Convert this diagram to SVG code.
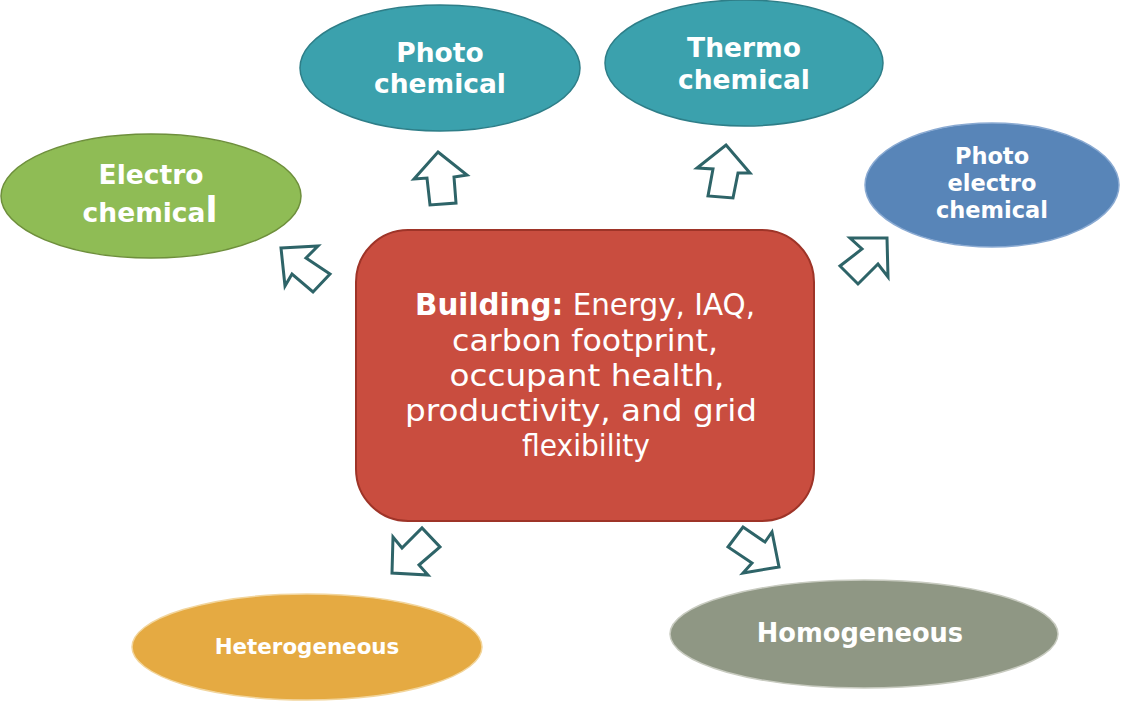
<svg xmlns="http://www.w3.org/2000/svg" width="1122" height="703" viewBox="0 0 1122 703">
<style>
.lbl{font-family:"DejaVu Sans","Noto Sans",sans-serif;font-weight:bold;fill:#fff;text-anchor:middle}
.ctr{font-family:"DejaVu Sans","Noto Sans",sans-serif;fill:#fff;text-anchor:middle;font-size:30px}
.arr{fill:#fff;stroke:#2E6468;stroke-width:3;stroke-linejoin:miter}
</style>
<rect width="1122" height="703" fill="#fff"/>
<g id="center">
<rect x="356" y="230" width="458" height="291" rx="52" fill="#C94D3F" stroke="#9E3428" stroke-width="2"/>
<text class="ctr" x="585" y="315" textLength="340" lengthAdjust="spacingAndGlyphs"><tspan font-weight="bold">Building:</tspan> Energy, IAQ,</text>
<text class="ctr" x="585" y="351" textLength="266" lengthAdjust="spacingAndGlyphs">carbon footprint,</text>
<text class="ctr" x="587" y="386" textLength="275" lengthAdjust="spacingAndGlyphs">occupant health,</text>
<text class="ctr" x="581" y="421" textLength="352" lengthAdjust="spacingAndGlyphs">productivity, and grid</text>
<text class="ctr" x="586" y="456" textLength="128" lengthAdjust="spacingAndGlyphs">flexibility</text>
</g>
<g id="electro">
<ellipse cx="151" cy="196" rx="150" ry="62" fill="#8FBC55" stroke="#6E8F3C" stroke-width="1.5"/>
<text class="lbl" x="151" y="184" font-size="26.5">Electro</text>
<text class="lbl" x="150" y="222" font-size="26.5">chemica<tspan font-size="35">l</tspan></text>
</g>
<g id="photo">
<ellipse cx="440" cy="68" rx="140" ry="63" fill="#3BA1AD" stroke="#2E7E88" stroke-width="1.5"/>
<text class="lbl" x="440" y="62" font-size="26.5">Photo</text>
<text class="lbl" x="440" y="93" font-size="26.5">chemical</text>
</g>
<g id="thermo">
<ellipse cx="744" cy="63" rx="139" ry="63" fill="#3BA1AD" stroke="#2E7E88" stroke-width="1.5"/>
<text class="lbl" x="744" y="57" font-size="26.5">Thermo</text>
<text class="lbl" x="744" y="89" font-size="26.5">chemical</text>
</g>
<g id="photoelectro">
<ellipse cx="992" cy="185" rx="127" ry="62" fill="#5885B8" stroke="#8AAAD2" stroke-width="1.5"/>
<text class="lbl" x="992" y="164" font-size="22.5">Photo</text>
<text class="lbl" x="992" y="191" font-size="22.5">electro</text>
<text class="lbl" x="992" y="218" font-size="22.5">chemical</text>
</g>
<g id="heterogeneous">
<ellipse cx="307" cy="647" rx="175" ry="53" fill="#E5AA42" stroke="#F2D59C" stroke-width="1.5"/>
<text class="lbl" x="307" y="654" font-size="21.4">Heterogeneous</text>
</g>
<g id="homogeneous">
<ellipse cx="864" cy="634" rx="194" ry="54" fill="#8F9784" stroke="#C8CBC0" stroke-width="1.5"/>
<text class="lbl" x="860" y="642" font-size="25.7">Homogeneous</text>
</g>
<g id="connectors">
<polygon class="arr" points="438,152 467,175 454,177 456,203 430,205 427,178 414,179"/>
<polygon class="arr" points="281,248 318,246 306,258 330,274 313,292 292,274 285,286"/>
<polygon class="arr" points="726,145 750,173 738,173 733,198 708,196 713,169 697,168"/>
<polygon class="arr" points="887,238 850,238 862,249 840,266 858,284 878,264 888,277"/>
<polygon class="arr" points="392,573 393,537 402,548 422,528 440,547 419,565 428,575"/>
<polygon class="arr" points="743,527 765,542 772,532 779,567 743,573 752,563 728,547"/>
</g>
</svg>
